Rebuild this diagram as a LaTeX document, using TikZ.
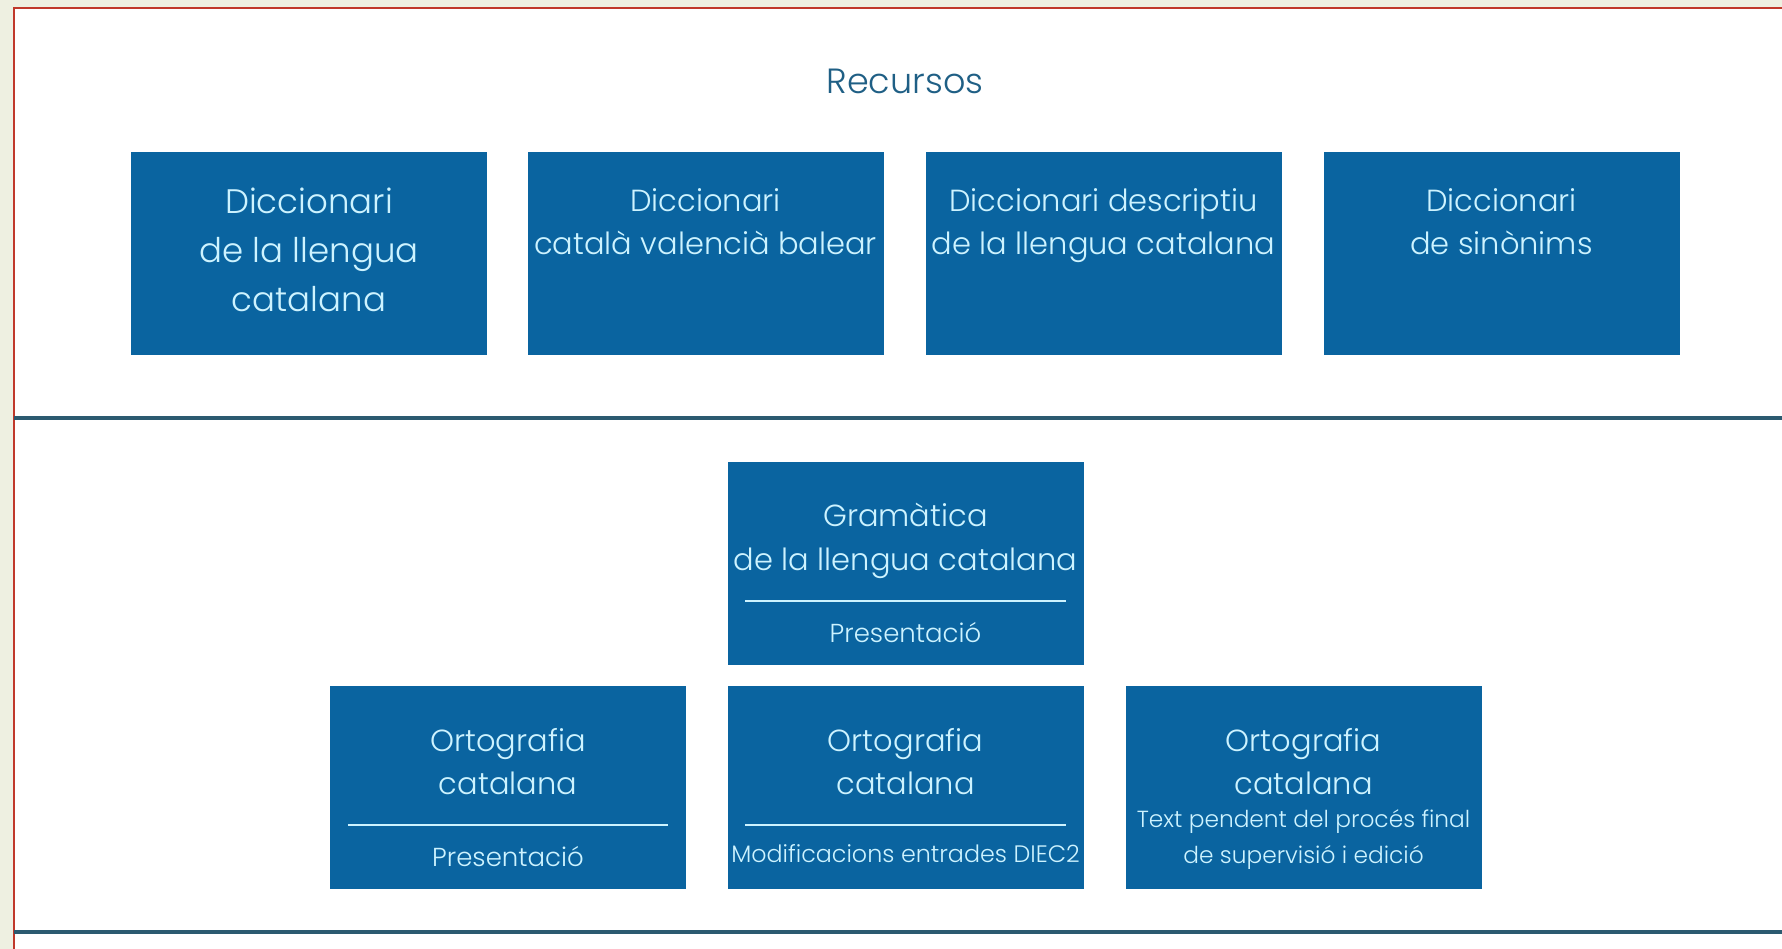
\documentclass[tikz,border=0pt]{standalone}
\usepackage{fontspec}
\setmainfont{Poppins Light}
\definecolor{bg}{HTML}{EEF0E1}
\definecolor{frame}{HTML}{C0392B}
\definecolor{boxblue}{HTML}{0A64A0}
\definecolor{boxtext}{HTML}{CDF3FF}
\definecolor{title}{HTML}{1F5F85}
\definecolor{rule}{HTML}{2B5A70}
\tikzset{
  box/.style={fill=boxblue, draw=none, minimum width=356pt, minimum height=203pt, inner sep=0pt},
  txt/.style={text=boxtext, anchor=base, inner sep=0pt},
  big/.style={font=\fontsize{34}{34}\selectfont},
  mid/.style={font=\fontsize{30.5}{30.5}\selectfont},
  pres/.style={font=\fontsize{26}{26}\selectfont},
  small/.style={font=\fontsize{23.8}{23.8}\selectfont},
  smaller/.style={font=\fontsize{23.3}{23.3}\selectfont},
  sep/.style={draw=boxtext, line width=2pt},
  hrule/.style={draw=rule, line width=4pt},
}
\begin{document}
\begin{tikzpicture}[x=1pt,y=-1pt]
\useasboundingbox (0,0) rectangle (1782,949);
\fill[bg] (0,0) rectangle (1782,949);
\fill[white] (14,8) rectangle (1782,949);
\draw[frame, line width=2.5pt] (14,949) -- (14,8) -- (1782,8);
\coordinate (r1l) at (14,418); \coordinate (r1r) at (1782,418);
\coordinate (r2l) at (14,932); \coordinate (r2r) at (1782,932);
\draw[hrule] (r1l) -- (r1r);
\draw[hrule] (r2l) -- (r2r);

\node[text=title, anchor=base, inner sep=0pt, font=\fontsize{35}{35}\selectfont] (rec) at (905,94) {Recursos};

\node[box] (b1) at (309,253.5) {};
\node[box] (b2) at (705.5,253.5) {};
\node[box] (b3) at (1103.5,253.5) {};
\node[box] (b4) at (1501.5,253.5) {};
\node[box] (g) at (905.5,563) {};
\node[box] (o1) at (508,787.5) {};
\node[box] (o2) at (905.5,787.5) {};
\node[box] (o3) at (1303.5,787.5) {};

\node[txt,big] (b1a) at (309,214) {Diccionari};
\node[txt,big] (b1b) at (309,263) {de la llengua};
\node[txt,big] (b1c) at (309,312) {catalana};

\node[txt,mid] (b2a) at (705.5,212) {Diccionari};
\node[txt,mid] (b2b) at (705.5,255) {català valencià balear};
\node[txt,mid] (b3a) at (1103.5,212) {Diccionari descriptiu};
\node[txt,mid] (b3b) at (1103.5,255) {de la llengua catalana};
\node[txt,mid] (b4a) at (1501.5,212) {Diccionari};
\node[txt,mid] (b4b) at (1501.5,255) {de sinònims};

\node[txt,mid] (ga) at (905.5,526) {Gramàtica};
\node[txt,mid] (gb) at (905.5,570) {de la llengua catalana};
\draw[sep] ([xshift=18pt]g.west |- 0,601) -- ([xshift=-18pt]g.east |- 0,601);
\node[txt,pres] (gc) at (905.5,642) {Presentació};

\node[txt,mid] (o1a) at (508,751) {Ortografia};
\node[txt,mid] (o1b) at (508,794) {catalana};
\draw[sep] ([xshift=18pt]o1.west |- 0,825) -- ([xshift=-18pt]o1.east |- 0,825);
\node[txt,pres] (o1c) at (508,866) {Presentació};

\node[txt,mid] (o2a) at (905.5,751) {Ortografia};
\node[txt,mid] (o2b) at (905.5,794) {catalana};
\draw[sep] ([xshift=18pt]o2.west |- 0,825) -- ([xshift=-18pt]o2.east |- 0,825);
\node[txt,small] (o2c) at (905.5,862) {Modificacions entrades DIEC2};

\node[txt,mid] (o3a) at (1303.5,751) {Ortografia};
\node[txt,mid] (o3b) at (1303.5,794) {catalana};
\node[txt,smaller] (o3c) at (1303.5,827) {Text pendent del procés final};
\node[txt,smaller] (o3d) at (1303.5,863) {de supervisió i edició};
\end{tikzpicture}
\end{document}
